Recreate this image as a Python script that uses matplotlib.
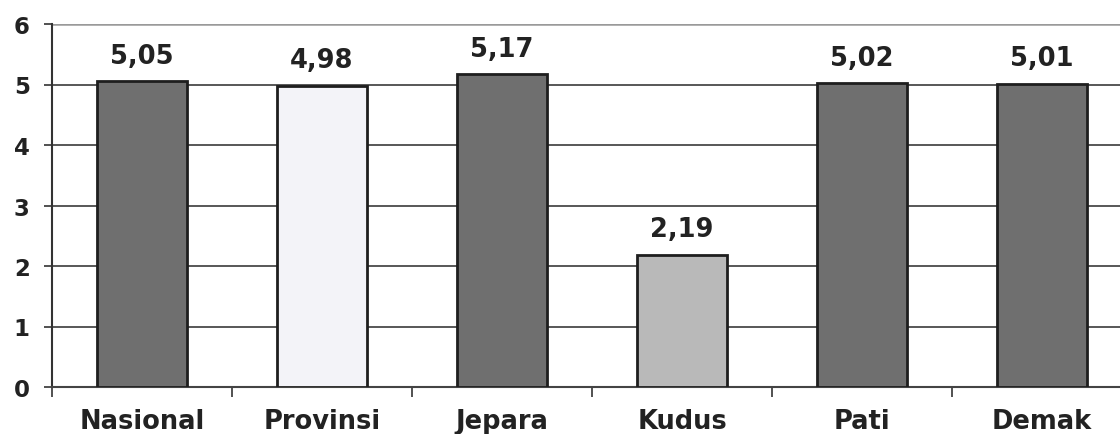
import numpy as np
import matplotlib.pyplot as plt

# data
categories = ["Nasional", "Provinsi", "Jepara", "Kudus", "Pati", "Demak"]
values = [5.05, 4.98, 5.17, 2.19, 5.02, 5.01]
value_labels = ["5,05", "4,98", "5,17", "2,19", "5,02", "5,01"]
y_ticks = [0, 1, 2, 3, 4, 5, 6]

# styling
bar_colors = ["#6f6f6f", "#f3f3f8", "#6f6f6f", "#b9b9b9", "#6f6f6f", "#6f6f6f"]
plt.rcParams['font.family'] = ['DejaVu Sans']
plt.rcParams['font.weight'] = 'bold'

fig = plt.figure(figsize=(11.2, 4.35), dpi=100)
# axes runs a little past the right edge, as in the scan
ax = fig.add_axes([52 / 1120, 47 / 435, 1080 / 1120, 363 / 435])

x = np.arange(len(categories))
ax.bar(x, values, width=0.5, color=bar_colors, edgecolor="#1e1e1e",
       linewidth=2, zorder=3)

for xi, v, lab in zip(x, values, value_labels):
    ax.annotate(lab, (xi, v), xytext=(0, 9), textcoords="offset points",
                ha="center", va="bottom", fontsize=18.5, fontweight="bold",
                color="#222222")

ax.set_xlim(-0.5, len(categories) - 0.5)
ax.set_ylim(0, 6)
ax.set_yticks(y_ticks)
ax.set_yticklabels([str(t) for t in y_ticks], fontsize=16.5, fontweight="bold",
                   color="#222222")
ax.tick_params(axis="y", length=6, width=1.2, color="#333333", pad=10)

ax.set_xticks(x)
ax.set_xticklabels(categories, fontsize=18.5, fontweight="bold", color="#222222")
ax.tick_params(axis="x", which="major", length=0, pad=15)
ax.set_xticks(np.arange(len(categories)) - 0.5, minor=True)
ax.tick_params(axis="x", which="minor", length=7, width=1.2, color="#333333")

ax.yaxis.grid(True, color="#4a4a4a", linewidth=1.3, zorder=0)
ax.set_axisbelow(True)
ax.get_ygridlines()[-1].set_color("#9a9a9a")
ax.get_ygridlines()[-1].set_linewidth(1.8)

for s in ["top", "right"]:
    ax.spines[s].set_visible(False)
ax.spines["left"].set_color("#333333")
ax.spines["left"].set_linewidth(1.5)
ax.spines["bottom"].set_color("#444444")
ax.spines["bottom"].set_linewidth(1.5)

fig.savefig("out.png", dpi=100)
